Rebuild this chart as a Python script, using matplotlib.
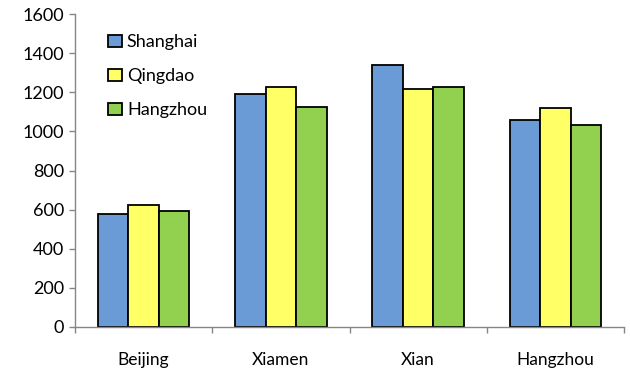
import numpy as np
import matplotlib
matplotlib.use("Agg")
import matplotlib.pyplot as plt

plt.rcParams['font.family'] = ['Lato', 'DejaVu Sans']

# Datos del gráfico
cities = ['Beijing', 'Xiamen', 'Xian', 'Hangzhou']
shanghai = [579, 1190, 1340, 1058]
qingdao = [621, 1228, 1216, 1118]
hangzhou = [594, 1125, 1227, 1034]
series_names = ['Shanghai', 'Qingdao', 'Hangzhou']
colors = ['#6B9BD7', '#FFFF66', '#92D050']

fig = plt.figure(figsize=(6.3, 3.71), dpi=100)
ax = fig.add_axes([75 / 630, 44.3 / 371, 549 / 630, 312.4 / 371])

x = np.arange(len(cities))
w = 1 / 4.5
for i, (vals, c) in enumerate(zip([shanghai, qingdao, hangzhou], colors)):
    ax.bar(x + (i - 1) * w, vals, width=w, color=c, edgecolor='black',
           linewidth=1.3, label=series_names[i], zorder=2)

ax.set_xlim(-0.5, len(cities) - 0.5)
ax.set_ylim(0, 1600)
ax.set_yticks(np.arange(0, 1601, 200))
ax.set_xticks(x)
ax.set_xticklabels(cities)
ax.set_xticks(np.arange(-0.5, len(cities)), minor=True)
ax.tick_params(axis='x', which='major', length=0, pad=18, labelsize=12.5)
ax.tick_params(axis='x', which='minor', length=4, color='#868686', width=1)
ax.tick_params(axis='y', length=4, color='#868686', width=1, labelsize=13, pad=4)

for s in ['top', 'right']:
    ax.spines[s].set_visible(False)
for s in ['left', 'bottom']:
    ax.spines[s].set_color('#868686')
    ax.spines[s].set_linewidth(1)

ax.legend(loc='upper left', bbox_to_anchor=(0.06, 0.936), frameon=False,
          fontsize=13, handlelength=0.8, handleheight=0.65, handletextpad=0.25,
          labelspacing=1.0, borderaxespad=0, borderpad=0)

fig.savefig('out.png', dpi=100)
